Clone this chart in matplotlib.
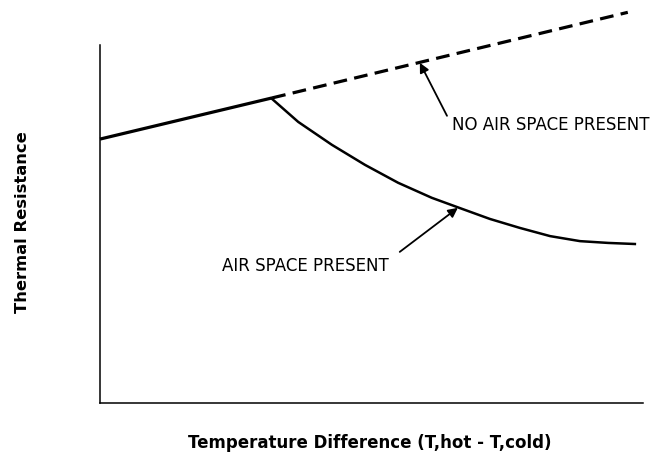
import matplotlib.pyplot as plt

# temperature difference (arbitrary units) vs thermal resistance (arbitrary units)
x_base = [0.0, 3.17]
r_base = [7.37, 8.52]

x_no_air = [3.17, 9.72]
r_no_air = [8.52, 10.91]

x_air = [3.17, 3.65, 4.27, 4.88, 5.49, 6.11, 6.67, 7.18, 7.73, 8.29, 8.84, 9.36, 9.85]
r_air = [8.49, 7.85, 7.21, 6.65, 6.15, 5.73, 5.42, 5.14, 4.89, 4.66, 4.52, 4.47, 4.44]

fig = plt.figure(figsize=(6.55, 4.55), dpi=100)
ax = fig.add_axes((0.1527, 0.1143, 0.829, 0.787))

ax.plot(x_base, r_base, color='k', lw=2.3, solid_capstyle='butt', clip_on=False)
ax.plot(x_no_air, r_no_air, color='k', lw=2.3, dashes=(4.3, 2.3), clip_on=False)
ax.plot(x_air, r_air, color='k', lw=1.8, solid_joinstyle='round', clip_on=False)

ax.set_xlim(0, 10)
ax.set_ylim(0, 10)
ax.set_xticks([])
ax.set_yticks([])
ax.spines['top'].set_visible(False)
ax.spines['right'].set_visible(False)
for s in ['left', 'bottom']:
    ax.spines[s].set_linewidth(1.1)

# annotations
arrow = dict(arrowstyle='-|>', color='k', lw=1.3, mutation_scale=14, shrinkA=0, shrinkB=0)
ax.annotate('', xy=(5.89, 9.50), xytext=(6.39, 8.02), arrowprops=arrow)
ax.text(6.48, 7.77, 'NO AIR SPACE PRESENT', fontsize=12, va='center', ha='left')
ax.annotate('', xy=(6.59, 5.45), xytext=(5.52, 4.22), arrowprops=arrow)
ax.text(2.25, 3.83, 'AIR SPACE PRESENT', fontsize=12, va='center', ha='left')

fig.text(0.565, 0.026, 'Temperature Difference (T,hot - T,cold)', fontsize=12,
         fontweight='bold', ha='center', va='center')
fig.text(0.034, 0.512, 'Thermal Resistance', fontsize=11.8, fontweight='bold',
         ha='center', va='center', rotation=90)

fig.savefig('out.png', dpi=100)
